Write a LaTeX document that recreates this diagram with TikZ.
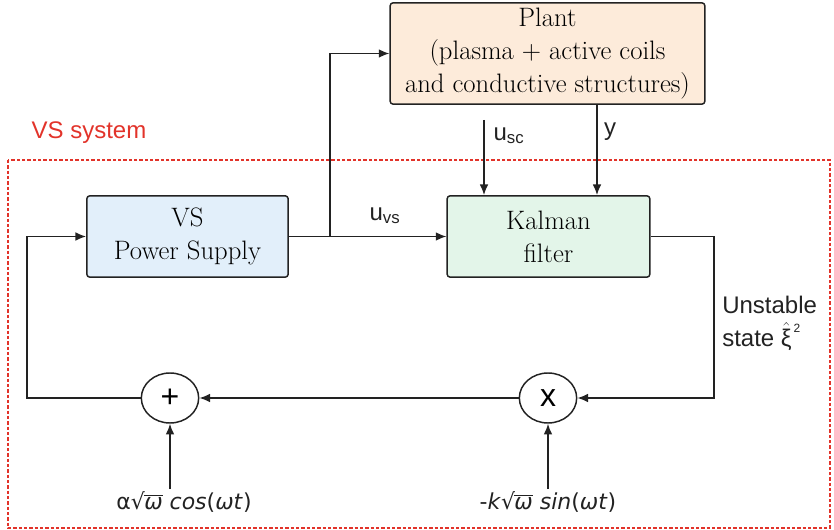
\documentclass[tikz,border=0pt]{standalone}
\usepackage{fontspec}
\newfontfamily\labelfont{Liberation Sans}
\newfontfamily\mathlabelfont{DejaVu Sans}
\usetikzlibrary{arrows.meta,shapes.geometric}
\definecolor{ink}{HTML}{222222}
\definecolor{frameRed}{HTML}{E2332A}
\definecolor{plantFill}{HTML}{FDEBDA}
\definecolor{supplyFill}{HTML}{E2EFFA}
\definecolor{kalmanFill}{HTML}{E3F5E9}
\newcommand{\sqrtomega}{√\kern-0.5pt$\overline{\hbox{\itshape ω}}$}
\tikzset{
    block/.style={
        draw=ink,
        line width=1.1pt,
        rounded corners=2.2pt,
        align=center,
        inner sep=0pt,
        font=\fontsize{20}{24.8}\selectfont
    },
    plantblock/.style={
        block,
        fill=plantFill,
        minimum width=236pt,
        minimum height=76pt
    },
    supplyblock/.style={
        block,
        fill=supplyFill,
        minimum width=151pt,
        minimum height=61pt
    },
    kalmanblock/.style={
        block,
        fill=kalmanFill,
        minimum width=152pt,
        minimum height=61pt
    },
    junction/.style={
        ellipse,
        draw=ink,
        fill=white,
        line width=1.1pt,
        minimum width=43pt,
        minimum height=37.5pt,
        inner sep=0pt,
        font=\labelfont\fontsize{24}{24}\selectfont
    },
    wire/.style={
        draw=ink,
        line width=1.1pt
    },
    signal/.style={
        wire,
        -{Latex[length=8pt,width=6.5pt]}
    },
    vsframe/.style={
        draw=frameRed,
        line width=1.1pt,
        dash pattern=on 2.4pt off 1.6pt
    },
    siglabel/.style={
        font=\labelfont\fontsize{18}{24.6}\selectfont,
        text=ink,
        inner sep=0pt
    },
    inputlabel/.style={
        font=\mathlabelfont\fontsize{16.5}{20}\selectfont,
        text=ink,
        inner sep=0pt
    }
}

\begin{document}
\begin{tikzpicture}[x=0.75pt,y=-0.75pt]
    \useasboundingbox (0,0) rectangle (834,530);

    % VS system frame
    \draw[vsframe] (8,160) rectangle (830,528);
    \node[siglabel, text=frameRed] (vslabel) at (89,133) {VS system};

    % Blocks
    \node[plantblock] (plant) at (547.5,53.5)
        {Plant\\(plasma + active coils\\and conductive structures)};
    \node[supplyblock] (supply) at (187.5,236.5) {VS\\Power Supply};
    \node[kalmanblock] (kalman) at (548.5,236.5) {Kalman\\filter};

    % Summing and multiplying junctions
    \node[junction] (sum) at (170,398) {+};
    \node[junction] (mult) at (548,398) {x};

    % Helper points
    \coordinate (branch) at (330,236.5);
    \coordinate (uscin) at (484,120);
    \coordinate (ytap) at (597,104);
    \coordinate (fbright) at (714,398);
    \coordinate (fbleft) at (27,398);
    \coordinate (cosin) at (170,489);
    \coordinate (sinin) at (548,489);

    % Forward path
    \draw[signal] (supply.east) -- (kalman.west);
    \draw[signal] (branch) |- (plant.west);
    \draw[signal] (uscin) -- (uscin |- kalman.north);
    \draw[signal] (ytap) -- (ytap |- kalman.north);

    % Feedback path
    \draw[signal] (kalman.east) -| (fbright) -- (mult.east);
    \draw[signal] (mult.west) -- (sum.east);
    \draw[signal] (sum.west) -- (fbleft) |- (supply.west);
    \draw[signal] (cosin) -- (sum.south);
    \draw[signal] (sinin) -- (mult.south);

    % Labels
    \node[siglabel] (uvs) at (385,216) {u\textsubscript{vs}};
    \node[siglabel] (usc) at (509,136) {u\textsubscript{sc}};
    \node[siglabel] (ylabel) at (610,132) {y};
    \node[siglabel, anchor=west, align=left] (statelabel) at (722,323)
        {Unstable\\state $\hat{\hbox{ξ}}^{\kern1.5pt\lower2.5pt\hbox{\fontsize{9}{9}\selectfont 2}}$};
    \node[inputlabel] (coslabel) at (184,502)
        {α\sqrtomega\ \textit{cos}(\textit{ωt})};
    \node[inputlabel] (sinlabel) at (548,502)
        {-\textit{k}\sqrtomega\ \textit{sin}(\textit{ωt})};

\end{tikzpicture}
\end{document}
